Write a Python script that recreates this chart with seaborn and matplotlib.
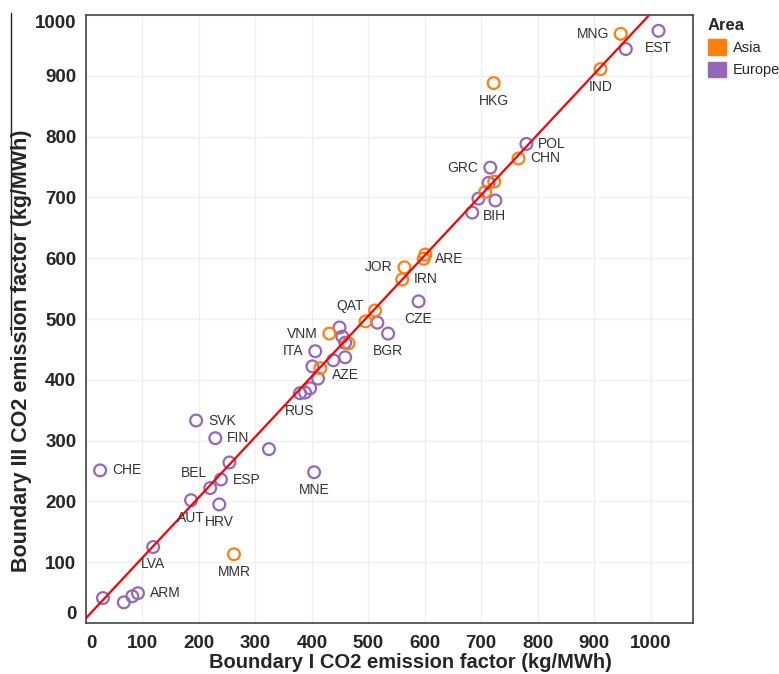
import numpy as np
import pandas as pd
import matplotlib
matplotlib.use("Agg")
import matplotlib.pyplot as plt
from matplotlib.patches import Patch
from matplotlib.lines import Line2D
import seaborn as sns

# country codes ("" = unlabelled point), area, boundary I and boundary III factors
eu_codes = ["CHE", "SVK", "FIN", "", "", "ESP", "BEL", "AUT", "HRV", "MNE",
            "LVA", "", "", "", "ARM", "RUS", "", "", "", "",
            "BGR", "CZE", "", "", "", "ITA", "", "AZE", "", "POL",
            "GRC", "", "", "", "BIH", "", "EST"]
eu_b1 = [25, 195, 229, 324, 254, 239, 220, 186, 236, 404,
         119, 30, 67, 82, 92, 379, 388, 397, 411, 516,
         535, 589, 449, 454, 459, 406, 438, 459, 401, 780,
         716, 713, 695, 725, 684, 956, 1014]
eu_b3 = [251, 333, 304, 286, 264, 236, 222, 202, 195, 248,
         125, 41, 34, 44, 49, 378, 379, 386, 402, 494,
         476, 529, 486, 471, 461, 447, 432, 437, 422, 788,
         749, 724, 698, 695, 675, 944, 974]

as_codes = ["MMR", "QAT", "", "VNM", "", "", "JOR", "IRN", "ARE", "",
            "CHN", "", "", "HKG", "IND", "MNG"]
as_b1 = [262, 512, 495, 431, 465, 415, 564, 560, 598, 601,
         766, 723, 707, 722, 911, 947]
as_b3 = [113, 514, 496, 476, 460, 419, 585, 565, 599, 606,
         764, 726, 709, 888, 911, 969]

# trend line
trend_x = [0, 1075]
trend_y = [8, 1077]

df = pd.DataFrame({
    "code": eu_codes + as_codes,
    "Area": ["Europe"] * len(eu_codes) + ["Asia"] * len(as_codes),
    "b1": eu_b1 + as_b1,
    "b3": eu_b3 + as_b3,
})

sns.set_theme(style="white")
plt.rcParams["font.family"] = ["Liberation Sans", "DejaVu Sans"]

colors = {"Asia": "#ff7f0e", "Europe": "#9467bd"}

fig = plt.figure(figsize=(7.79, 6.74), dpi=100)
ax = fig.add_axes([86 / 779, 1 - 623 / 674, 607 / 779, 608 / 674])

sns.scatterplot(data=df, x="b1", y="b3", hue="Area", palette=colors,
                s=72, linewidth=1.6, legend=False, ax=ax, zorder=3)
# hollow circles
pts = ax.collections[0]
pts.set_edgecolors(pts.get_facecolors())
pts.set_facecolors("none")

ax.plot(trend_x, trend_y, color="#ff0000", lw=1.6, zorder=4)

# label placement, offsets in points
below = (0, -7.5, "center", "top")
right = (8.5, 0, "left", "center")
left = (-8.5, 0, "right", "center")
place = {"CHE": right, "SVK": right, "FIN": right, "ESP": right, "ARM": right,
         "POL": right, "CHN": right, "IRN": right, "ARE": right,
         "BIH": (8, -2.5, "left", "center"),
         "GRC": left, "MNG": left, "JOR": left, "VNM": left, "ITA": left,
         "QAT": (-8, 3.5, "right", "center"),
         "BEL": (-2, 11, "right", "center")}
for _, r in df.iterrows():
    if r["code"] == "":
        continue
    dx, dy, ha, va = place.get(r["code"], below)
    ax.annotate(r["code"], (r["b1"], r["b3"]), xytext=(dx, dy),
                textcoords="offset points", ha=ha, va=va,
                fontsize=10, color="#333333", zorder=5)

ax.set_xlim(0, 1075)
ax.set_ylim(0, 1000)
ax.set_xticks(range(0, 1001, 100))
ax.set_yticks(range(0, 1001, 100))
ax.grid(True, color="#efefef", lw=1)
ax.set_axisbelow(True)
for s in ax.spines.values():
    s.set_color("#444444")
    s.set_linewidth(1.2)
ax.tick_params(axis="x", length=5, width=1, color="#888888", pad=4,
               labelsize=13.5)
ax.tick_params(axis="y", length=6, width=1, color="#888888", pad=1,
               labelsize=13.5)
for t in ax.get_xticklabels() + ax.get_yticklabels():
    t.set_fontweight("bold")
ax.get_xticklabels()[0].set_horizontalalignment("left")
ax.get_yticklabels()[0].set_verticalalignment("bottom")
ax.get_yticklabels()[-1].set_verticalalignment("top")
ax.set_xlabel("")
ax.set_ylabel("")

fig.text(410 / 779, 1 - 662 / 674, "Boundary I CO2 emission factor (kg/MWh)",
         ha="center", va="center", fontsize=14.5, fontweight="bold")
fig.text(22 / 779, 1 - 351 / 674, "Boundary III CO2 emission factor (kg/MWh)",
         ha="center", va="center", rotation=90, fontsize=15.5,
         fontweight="bold")
fig.add_artist(Line2D([11 / 779, 11 / 779], [1 - 13 / 674, 1 - 335 / 674],
                      transform=fig.transFigure, color="#222222", lw=1))

handles = [Patch(facecolor=colors[k], edgecolor=colors[k], label=k)
           for k in ["Asia", "Europe"]]
leg = fig.legend(handles=handles, title="Area", loc="upper left",
                 bbox_to_anchor=(702 / 779, 1 - 12 / 674), frameon=False,
                 fontsize=10.5, handlelength=1.25, handleheight=1.25,
                 handletextpad=0.45, labelspacing=0.45, borderaxespad=0)
leg.get_title().set_fontweight("bold")
leg.get_title().set_fontsize(12)
leg._legend_box.align = "left"

fig.savefig("out.png", dpi=100)
